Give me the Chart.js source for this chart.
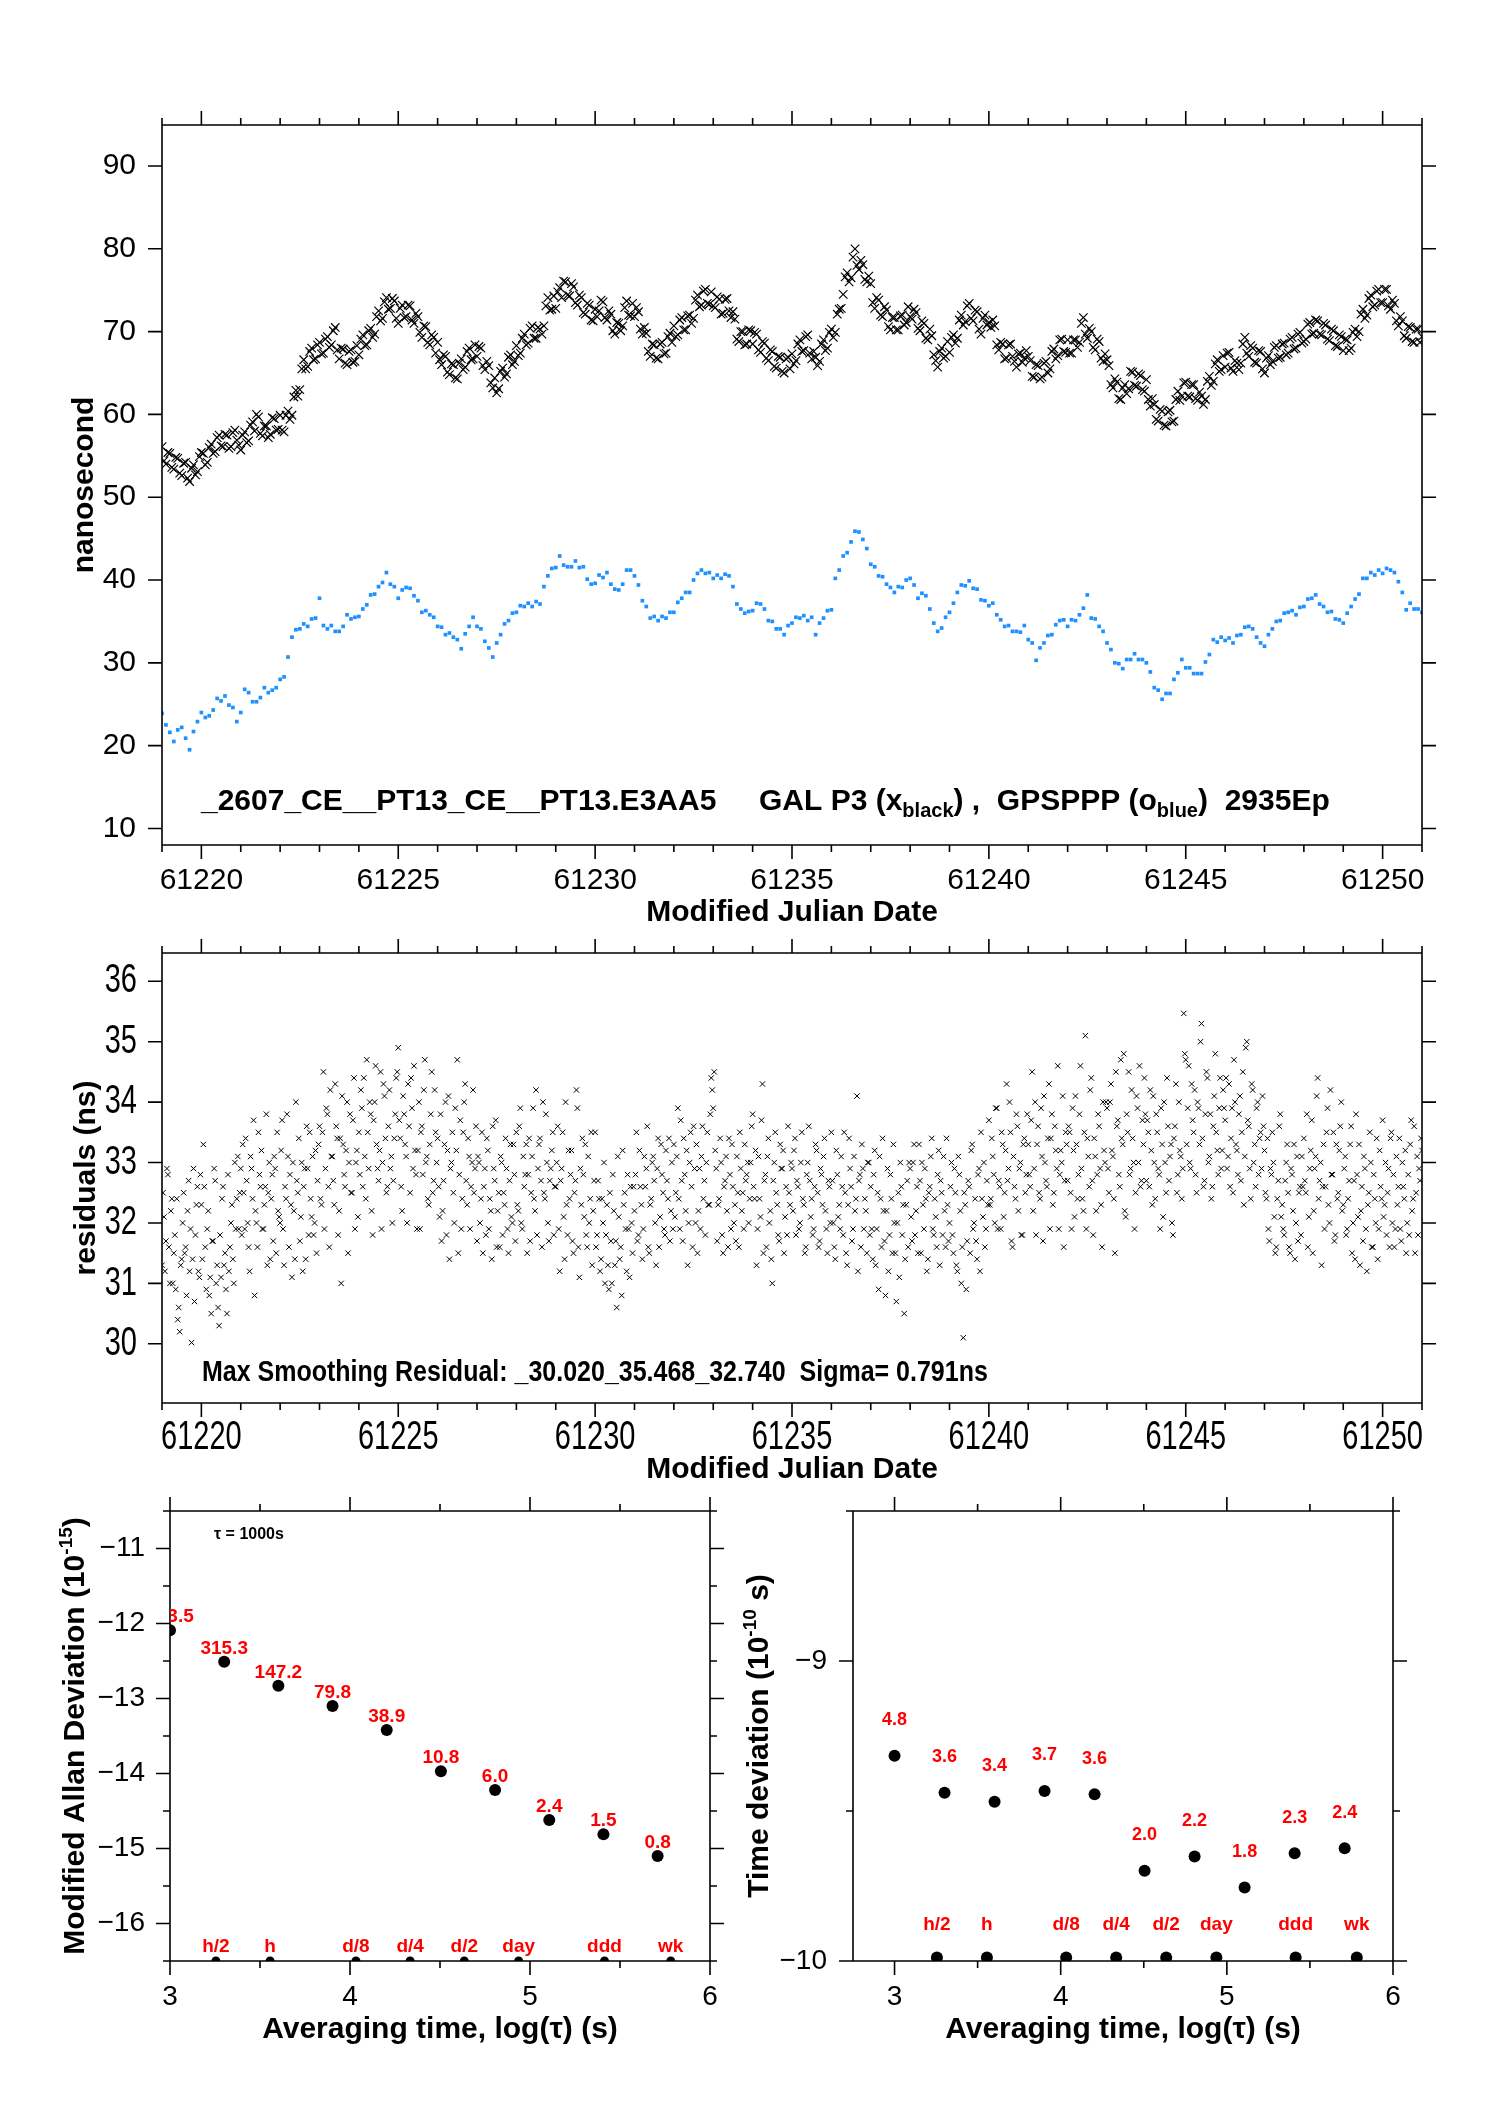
<!DOCTYPE html>
<html>
<head>
<meta charset="utf-8">
<title>GAL P3 / GPSPPP clock comparison</title>
<script src="https://cdn.jsdelivr.net/npm/chart.js@4.4.1/dist/chart.umd.min.js"></script>
<style>
  html, body { margin: 0; padding: 0; background: #fff; }
  body { position: relative; width: 1488px; height: 2105px; overflow: hidden; }
  canvas { position: absolute; }
</style>
</head>
<body>
<canvas id="clockChart" width="1488" height="935" style="left:0;top:0"></canvas>
<canvas id="residChart" width="1488" height="555" style="left:0;top:935px"></canvas>
<canvas id="mdevChart" width="760" height="615" style="left:0;top:1490px"></canvas>
<canvas id="tdevChart" width="758" height="615" style="left:730px;top:1490px"></canvas>
<script>
// ---- data ----
const mjdStart = 61219;
const clockStep = 0.1;     // days between clock samples
const clockMidOffset = 0.05;
const residStep = 0.05;    // days between residual samples
const residMidOffset = 0.025;
const mjdTicks = [61220, 61225, 61230, 61235, 61240, 61245, 61250];

// GAL P3 clock offset (ns), samples at .0 .1 .2 ... , one row per day
const galP3 = [
  56.1, 54.0, 55.3, 53.4, 54.7, 52.6, 54.2, 51.9, 53.9, 53.1,
  55.4, 53.9, 56.0, 55.3, 57.2, 56.2, 57.6, 55.9, 57.8, 56.9,
  55.7, 57.9, 56.8, 59.1, 60.0, 57.7, 58.6, 57.2, 59.6, 58.1,
  59.9, 57.9, 60.4, 59.9, 62.9, 63.0, 66.6, 65.8, 68.0, 66.7,
  68.7, 67.4, 69.4, 68.4, 70.5, 66.7, 67.9, 66.0, 67.8, 66.4,
  67.2, 69.6, 68.4, 70.4, 69.7, 72.5, 71.6, 74.1, 72.8, 73.7,
  71.0, 73.2, 71.8, 73.1, 71.0, 71.8, 69.3, 70.6, 68.4, 69.3,
  68.7, 66.0, 67.0, 64.8, 66.0, 64.3, 66.7, 65.7, 68.0, 66.7,
  67.0, 68.0, 65.4, 65.9, 63.2, 62.6, 65.2, 64.5, 66.9, 66.0,
  68.3, 67.4, 69.7, 68.6, 70.7, 69.2, 70.3, 70.7, 74.1, 72.7,
  72.8, 75.3, 76.1, 74.4, 75.8, 73.5, 74.4, 72.3, 73.4, 71.4,
  72.7, 72.5, 73.6, 71.4, 72.1, 69.7, 71.0, 70.7, 73.7, 71.9,
  71.8, 72.4, 69.7, 69.8, 67.0, 68.4, 66.7, 68.7, 67.4, 69.8,
  70.7, 69.6, 71.7, 70.2, 72.0, 71.6, 74.4, 73.2, 75.1, 73.3,
  73.1, 74.2, 72.1, 73.9, 72.5, 72.4, 69.1, 70.0, 68.4, 70.2,
  68.5, 69.7, 67.5, 68.6, 66.5, 67.6, 65.6, 66.9, 65.0, 66.9,
  67.3, 66.5, 69.0, 67.7, 69.6, 66.7, 66.9, 66.4, 69.0, 68.0,
  70.3, 69.9, 72.7, 74.5, 77.1, 76.5, 80.0, 77.5, 78.1, 76.0,
  75.8, 72.8, 73.8, 71.8, 72.6, 70.2, 71.7, 70.2, 72.0, 71.1,
  71.8, 72.7, 70.4, 71.3, 69.2, 70.3, 67.2, 65.7, 68.0, 67.0,
  67.5, 69.6, 69.2, 72.0, 71.2, 73.4, 71.3, 72.4, 69.7, 72.0,
  71.1, 71.4, 68.4, 68.7, 66.7, 68.4, 67.0, 65.7, 67.4, 66.8,
  67.0, 64.6, 66.0, 64.3, 66.2, 65.0, 67.6, 66.7, 69.0, 67.6,
  69.0, 67.4, 69.0, 68.7, 71.7, 69.2, 70.0, 67.8, 68.8, 66.4,
  66.6, 63.6, 64.3, 61.9, 63.2, 62.5, 65.2, 63.5, 64.9, 63.0,
  64.2, 61.0, 61.2, 59.2, 60.4, 58.6, 60.5, 59.2, 62.8, 62.2,
  63.9, 62.1, 63.6, 61.7, 62.2, 61.8, 64.6, 64.0, 66.6, 65.4,
  65.7, 67.5, 65.2, 66.2, 66.2, 69.3, 67.0, 68.0, 66.2, 67.6,
  65.0, 67.1, 66.4, 68.3, 66.9, 68.6, 67.4, 69.3, 68.0, 69.9,
  68.8, 70.9, 69.7, 71.4, 69.7, 71.0, 69.1, 70.3, 68.3, 69.6,
  67.7, 69.0, 68.0, 70.3, 70.0, 72.7, 72.0, 74.4, 73.2, 75.1,
  73.5, 75.1, 72.7, 73.4, 70.7, 71.3, 69.2, 70.5, 68.7, 70.3,
  69.4
];
// GAL P3 samples at .05 .15 .25 ...
const galP3Mid = [
  54.4, 55.4, 53.6, 54.8, 52.9, 54.1, 52.3, 53.5, 52.7, 54.9,
  55.3, 54.2, 56.4, 55.5, 57.5, 56.1, 57.5, 56.1, 58.1, 56.3,
  57.5, 56.6, 58.7, 58.0, 59.7, 57.4, 58.6, 57.6, 59.5, 58.2,
  58.1, 59.9, 59.4, 62.1, 62.2, 65.5, 65.5, 67.6, 66.6, 68.4,
  67.3, 69.1, 68.1, 70.1, 67.8, 68.0, 66.2, 67.6, 66.3, 68.3,
  69.1, 68.3, 70.1, 69.3, 71.8, 71.3, 73.6, 72.7, 74.0, 71.6,
  72.8, 71.7, 73.2, 71.4, 72.2, 69.9, 70.7, 68.7, 69.6, 67.4,
  66.6, 67.2, 65.1, 66.1, 64.4, 66.2, 65.4, 67.6, 66.6, 68.4,
  68.2, 65.9, 66.4, 63.8, 64.4, 63.1, 65.6, 64.9, 67.2, 66.4,
  67.1, 69.2, 68.4, 70.4, 69.2, 70.5, 69.7, 73.1, 72.6, 74.3,
  74.8, 74.1, 76.0, 74.3, 75.4, 73.2, 74.1, 72.1, 73.2, 71.3,
  71.8, 73.8, 71.7, 72.5, 70.1, 71.1, 70.1, 72.9, 72.0, 73.4,
  72.9, 70.3, 70.5, 67.6, 68.5, 66.8, 68.5, 67.3, 69.4, 68.7,
  69.4, 71.4, 70.2, 71.9, 71.0, 73.8, 73.0, 74.9, 73.4, 74.8,
  72.9, 73.9, 72.2, 74.0, 71.7, 71.5, 68.8, 70.0, 68.5, 70.1,
  69.9, 67.8, 68.8, 66.8, 67.8, 65.8, 67.0, 65.2, 66.7, 65.5,
  66.1, 68.5, 67.6, 69.4, 67.4, 67.6, 65.9, 68.5, 67.7, 69.9,
  69.3, 72.1, 72.8, 76.6, 76.0, 79.0, 78.0, 78.6, 76.3, 76.7,
  73.5, 74.1, 72.0, 73.0, 70.6, 71.7, 70.2, 71.9, 70.8, 73.0,
  71.5, 72.3, 70.1, 71.0, 69.0, 69.5, 66.5, 67.6, 66.8, 68.8,
  69.3, 68.6, 71.4, 70.8, 73.1, 71.6, 72.6, 70.3, 71.6, 70.8,
  70.5, 70.7, 67.8, 68.5, 66.8, 68.5, 66.4, 67.3, 66.3, 67.7,
  66.5, 64.5, 65.9, 64.5, 66.4, 65.5, 67.9, 67.1, 69.1, 67.5,
  67.4, 69.0, 68.1, 71.0, 69.7, 70.4, 68.1, 69.1, 66.8, 67.3,
  65.9, 63.2, 63.9, 61.8, 63.6, 63.1, 65.1, 63.4, 64.7, 62.8,
  61.8, 61.9, 59.4, 60.6, 58.7, 60.3, 59.1, 61.8, 61.7, 63.8,
  62.2, 63.6, 61.9, 62.7, 61.2, 64.0, 63.5, 66.1, 65.2, 67.1,
  67.4, 65.6, 66.5, 65.4, 68.5, 67.4, 68.3, 66.3, 67.7, 65.5,
  66.8, 66.0, 68.1, 66.8, 68.5, 67.2, 69.1, 67.9, 69.7, 68.6,
  69.1, 71.1, 69.8, 71.3, 69.6, 70.8, 68.9, 70.1, 68.2, 69.4,
  69.1, 67.7, 69.9, 69.4, 72.1, 71.6, 74.0, 73.0, 74.9, 73.5,
  75.1, 73.1, 73.8, 71.3, 71.8, 69.5, 70.6, 68.8, 70.3, 68.7
];

// GPSPPP clock offset (ns), one row per day
const gpsPpp = [
  23.9, 22.5, 21.6, 20.5, 21.9, 22.2, 20.9, 19.5, 21.7, 22.9,
  24.0, 23.4, 23.6, 24.3, 25.7, 25.4, 26.0, 24.9, 24.6, 22.9,
  24.0, 26.8, 26.4, 25.3, 25.3, 25.8, 27.0, 26.4, 26.7, 27.0,
  28.0, 28.3, 30.7, 33.1, 34.0, 34.1, 34.7, 34.4, 35.3, 35.4,
  37.8, 34.5, 34.1, 34.5, 33.8, 33.8, 34.4, 35.8, 35.3, 35.5,
  35.6, 36.5, 37.0, 38.2, 38.3, 39.2, 39.7, 40.9, 39.5, 39.2,
  37.8, 38.8, 39.1, 39.0, 38.1, 37.5, 36.1, 36.3, 35.8, 35.5,
  34.4, 34.3, 33.4, 33.6, 33.1, 32.8, 31.7, 33.5, 34.4, 35.5,
  34.4, 34.1, 32.6, 31.8, 30.7, 32.4, 33.4, 34.7, 35.1, 36.0,
  36.1, 36.9, 36.8, 37.2, 36.8, 37.4, 37.1, 39.2, 40.5, 41.4,
  41.5, 42.9, 41.8, 41.6, 41.6, 42.3, 41.5, 41.6, 40.1, 39.5,
  39.6, 40.6, 40.3, 40.9, 39.5, 38.9, 38.8, 39.5, 41.2, 41.2,
  40.5, 39.4, 37.5, 36.8, 35.4, 35.6, 35.1, 35.6, 35.4, 36.1,
  36.1, 37.3, 37.8, 38.5, 38.5, 40.0, 40.8, 41.2, 40.8, 40.9,
  40.2, 40.6, 40.2, 40.7, 40.5, 39.2, 37.1, 36.5, 36.0, 36.2,
  36.3, 37.2, 37.1, 36.5, 35.1, 35.0, 34.1, 34.1, 33.4, 34.5,
  34.8, 35.5, 35.4, 35.7, 35.1, 35.5, 33.4, 34.8, 35.4, 36.3,
  36.4, 40.2, 41.2, 42.9, 43.3, 44.6, 45.9, 45.8, 44.9, 43.8,
  41.9, 41.6, 40.5, 40.4, 39.5, 39.1, 38.5, 39.2, 39.1, 40.0,
  40.2, 39.4, 37.8, 38.4, 38.1, 36.5, 34.8, 33.8, 34.2, 35.5,
  36.1, 37.2, 38.5, 39.4, 39.3, 39.9, 39.0, 38.9, 37.6, 37.5,
  36.9, 37.2, 35.8, 35.2, 34.4, 34.5, 33.8, 33.8, 33.7, 34.5,
  32.8, 32.4, 30.3, 31.8, 32.4, 33.3, 33.4, 34.6, 35.1, 35.2,
  34.4, 35.2, 35.1, 35.8, 36.6, 38.2, 35.4, 35.3, 34.4, 33.8,
  32.4, 31.6, 30.0, 29.9, 29.3, 30.4, 30.4, 31.1, 30.4, 30.4,
  30.0, 28.9, 27.0, 26.7, 25.6, 26.3, 26.3, 28.0, 28.8, 30.4,
  29.4, 29.4, 28.7, 28.7, 28.7, 30.1, 31.0, 32.8, 32.5, 33.1,
  32.7, 33.0, 32.4, 33.3, 33.4, 34.3, 34.4, 34.1, 33.1, 32.4,
  32.0, 33.4, 34.1, 35.0, 35.1, 36.0, 36.1, 36.3, 35.8, 36.7,
  36.8, 37.7, 37.8, 38.2, 37.1, 36.8, 36.1, 36.2, 35.3, 35.2,
  34.8, 36.0, 36.8, 37.7, 38.3, 40.2, 40.2, 40.9, 40.6, 41.2,
  40.8, 41.4, 41.2, 40.9, 39.8, 38.5, 36.4, 37.2, 36.5, 36.5,
  36.1
];

// smoothing residuals (ns), samples at .000 .050 .100 ..., one row per day
const residuals = [
  31.3, 32.1, 31.7, 32.8, 31.0, 32.4, 31.5, 30.9, 30.4, 30.2, 31.4, 32.5, 31.6, 32.2, 31.2, 30.02, 32.9, 31.8, 32.6, 31.1,
  32.3, 33.3, 31.6, 31.9, 30.8, 30.5, 31.7, 32.7, 31.3, 30.3, 31.1, 32.6, 31.5, 30.5, 31.2, 32.0, 31.4, 33.0, 32.4, 31.9,
  32.9, 33.3, 31.9, 32.7, 31.6, 33.1, 32.4, 30.8, 32.0, 33.5, 32.6, 31.9, 32.3, 33.8, 32.5, 31.4, 32.8, 33.1, 31.5, 32.2,
  32.0, 33.7, 31.3, 32.4, 33.1, 32.8, 31.1, 32.2, 34.0, 32.5, 31.7, 33.0, 32.6, 31.4, 32.9, 33.5, 32.1, 31.8, 33.2, 32.7,
  33.6, 32.3, 34.5, 32.9, 33.8, 31.6, 33.1, 32.7, 34.3, 33.4, 32.2, 31.0, 33.3, 32.6, 34.0, 33.0, 32.5, 33.7, 31.9, 33.2,
  33.5, 34.2, 32.6, 33.1, 34.7, 32.9, 33.8, 31.8, 34.0, 33.3, 32.7, 34.5, 33.0, 34.1, 32.5, 33.6, 32.9, 32.0, 33.4, 34.4,
  34.9, 33.4, 32.2, 33.8, 33.1, 34.3, 32.5, 33.9, 34.6, 32.8, 33.2, 31.9, 33.6, 34.2, 33.0, 32.4, 33.3, 34.5, 32.7, 33.5,
  33.4, 32.1, 31.7, 32.7, 34.0, 33.2, 31.4, 33.0, 32.5, 33.9, 34.7, 32.8, 31.9, 33.5, 34.3, 32.3, 33.1, 32.6, 34.2, 32.9,
  31.7, 33.0, 32.4, 31.5, 32.9, 33.4, 31.9, 32.2, 33.6, 32.7, 31.6, 32.5, 33.1, 31.8, 32.3, 32.9, 31.5, 33.3, 32.0, 32.8,
  33.5, 32.2, 33.9, 31.9, 32.6, 33.3, 32.8, 31.7, 33.1, 32.4, 34.2, 32.9, 33.4, 31.6, 32.5, 33.8, 32.0, 32.7, 33.2, 31.8,
  32.6, 33.6, 31.2, 32.9, 32.1, 34.0, 31.8, 32.4, 33.2, 31.5, 32.7, 33.9, 31.1, 32.3, 32.8, 33.3, 31.6, 32.0, 33.5, 32.2,
  33.5, 31.8, 32.4, 31.4, 32.0, 31.0, 32.3, 30.9, 31.7, 32.8, 31.3, 30.6, 32.1, 31.6, 33.2, 32.5, 31.2, 31.9, 32.6, 31.5,
  32.2, 33.5, 31.8, 32.6, 31.4, 33.1, 32.9, 31.6, 32.3, 33.0, 32.7, 31.3, 33.4, 32.1, 32.8, 31.9, 33.2, 32.4, 31.7, 33.0,
  33.3, 32.5, 33.9, 31.9, 32.7, 33.4, 32.2, 31.3, 33.0, 32.6, 33.6, 32.0, 31.5, 32.9, 33.1, 32.4, 31.8, 33.5, 32.3, 34.4,
  33.9, 33.2, 31.7, 32.4, 33.0, 31.5, 32.7, 32.2, 33.4, 31.9, 32.6, 32.3, 33.1, 31.6, 32.9, 32.5, 33.3, 32.8, 32.0, 33.0,
  33.8, 32.4, 31.3, 33.1, 32.1, 34.3, 32.7, 31.6, 33.4, 32.2, 31.0, 33.0, 32.5, 31.8, 33.3, 32.9, 31.5, 32.6, 33.6, 32.3,
  32.9, 33.2, 31.8, 32.6, 32.0, 33.5, 32.3, 31.6, 33.0, 32.7, 32.4, 31.9, 33.3, 32.5, 31.7, 32.8, 33.1, 32.2, 31.5, 32.6,
  33.5, 32.0, 31.4, 32.8, 32.3, 33.1, 31.8, 32.5, 31.3, 33.4, 32.6, 31.9, 32.2, 34.1, 32.7, 31.6, 32.9, 32.4, 31.5, 33.0,
  32.6, 31.4, 33.2, 31.9, 30.9, 32.4, 33.4, 31.7, 32.2, 31.2, 32.8, 31.5, 32.0, 30.7, 32.5, 33.0, 31.8, 30.5, 32.3, 31.6,
  32.9, 31.7, 33.3, 32.2, 31.5, 32.7, 33.0, 31.9, 32.4, 31.4, 32.6, 33.4, 31.8, 32.1, 32.8, 31.3, 32.5, 33.1, 31.6, 32.3,
  32.0, 33.0, 31.5, 32.5, 31.2, 32.8, 31.0, 30.1, 32.3, 31.7, 32.6, 33.2, 31.9, 32.4, 31.4, 32.9, 33.5, 32.1, 31.6, 32.7,
  33.7, 32.4, 33.1, 32.0, 33.9, 32.7, 31.9, 33.3, 32.5, 34.3, 32.9, 33.5, 31.6, 32.6, 33.8, 32.2, 33.0, 31.8, 33.4, 32.8,
  33.3, 32.6, 34.5, 32.9, 31.8, 33.6, 32.4, 33.1, 34.1, 32.7, 33.4, 31.9, 33.8, 32.5, 33.2, 34.6, 32.8, 33.0, 31.6, 33.5,
  32.7, 33.5, 31.9, 33.2, 34.1, 32.4, 33.8, 32.9, 32.2, 35.1, 33.4, 32.6, 34.4, 31.8, 33.1, 32.8, 33.6, 32.3, 34.0, 33.0,
  33.9, 32.5, 34.3, 33.1, 31.5, 33.6, 32.8, 34.7, 33.3, 32.2, 33.8, 34.5, 32.9, 33.4, 31.9, 34.1, 33.0, 32.6, 33.7, 34.4,
  32.7, 33.5, 34.2, 32.3, 33.0, 33.8, 32.9, 31.9, 33.3, 34.0, 32.5, 33.6, 33.1, 32.0, 33.4, 34.3, 32.8, 33.2, 32.4, 35.468,
  34.7, 33.9, 33.0, 34.3, 33.5, 32.8, 34.0, 33.3, 35.3, 32.6, 33.8, 34.4, 33.1, 32.4, 33.6, 34.8, 33.2, 33.9, 32.9, 34.2,
  33.7, 32.9, 34.3, 33.4, 32.5, 34.0, 33.2, 33.8, 32.7, 34.5, 33.1, 35.0, 33.6, 32.4, 34.2, 33.3, 33.9, 32.8, 33.5, 34.1,
  33.2, 32.4, 31.9, 32.9, 33.5, 32.1, 31.6, 32.7, 33.8, 32.3, 31.8, 33.0, 32.5, 31.5, 32.8, 33.3, 32.0, 31.7, 32.6, 33.1,
  33.4, 32.5, 31.6, 32.9, 33.7, 32.2, 33.1, 34.4, 32.7, 31.3, 33.3, 32.6, 33.9, 32.0, 32.8, 33.5, 31.8, 32.4, 33.2, 34.0,
  32.3, 33.1, 31.9, 32.7, 33.6, 32.0, 31.4, 32.8, 33.3, 32.2, 31.7, 32.9, 31.2, 32.5, 33.0, 31.6, 32.4, 33.4, 31.9, 32.6,
  33.7, 32.3, 31.8, 32.9, 33.4, 32.0, 31.6, 33.1, 32.6, 31.9, 33.0, 32.4, 31.5, 32.8, 33.3, 32.2, 33.6, 32.5, 31.8, 32.7,
  33.2
];
// residual samples at .025 .075 .125 ...
const residualsMid = [
  32.5, 31.2, 32.9, 31.6, 32.2, 31.0, 31.8, 32.4, 30.6, 31.3, 32.0, 31.5, 30.8, 32.7, 31.9, 31.4, 30.7, 32.3, 31.2, 32.8,
  31.4, 32.6, 30.9, 32.2, 31.1, 31.7, 32.9, 31.0, 30.6, 31.8, 32.4, 31.3, 30.9, 32.8, 31.6, 32.3, 31.0, 31.9, 33.1, 32.5,
  31.8, 32.5, 33.4, 32.0, 31.2, 32.9, 33.7, 32.2, 31.6, 32.8, 33.2, 31.9, 32.6, 31.3, 33.0, 32.4, 31.7, 32.9, 33.5, 32.1,
  33.2, 31.9, 32.6, 33.8, 31.6, 32.3, 33.0, 31.4, 32.7, 33.4, 32.1, 31.2, 32.9, 33.6, 31.8, 32.4, 33.1, 32.0, 31.5, 33.3,
  32.4, 33.5, 31.9, 33.9, 32.6, 34.2, 33.1, 32.3, 33.6, 31.8, 33.4, 34.1, 32.8, 33.2, 31.5, 33.8, 32.5, 34.4, 33.0, 32.1,
  32.8, 33.9, 34.4, 32.4, 33.5, 34.0, 32.2, 33.7, 34.6, 32.9, 33.2, 31.9, 34.3, 33.4, 32.6, 34.2, 33.1, 32.7, 33.8, 34.5,
  33.7, 32.6, 34.1, 33.3, 32.0, 33.6, 34.4, 32.9, 33.2, 31.9, 34.0, 33.5, 32.8, 34.7, 33.1, 32.3, 33.8, 32.5, 34.2, 33.0,
  32.6, 33.8, 32.2, 33.3, 31.8, 34.1, 32.9, 33.5, 32.0, 33.2, 31.5, 33.7, 32.4, 34.0, 32.7, 33.4, 31.9, 33.0, 32.5, 33.6,
  33.1, 32.0, 33.5, 32.6, 31.8, 33.2, 32.4, 31.4, 32.9, 33.7, 32.2, 31.6, 33.0, 32.5, 33.4, 31.9, 32.7, 32.1, 33.3, 31.7,
  32.3, 33.6, 32.0, 33.1, 32.8, 31.5, 33.4, 32.5, 33.9, 32.2, 31.8, 33.3, 32.7, 34.0, 32.4, 33.0, 31.7, 32.9, 33.5, 32.6,
  33.0, 31.9, 32.7, 33.5, 31.4, 32.3, 33.2, 32.8, 31.7, 32.5, 34.2, 31.6, 32.9, 33.4, 32.1, 31.8, 33.1, 32.4, 31.3, 32.7,
  31.6, 32.7, 31.2, 32.4, 33.0, 31.8, 31.3, 32.5, 31.0, 32.2, 31.7, 33.1, 31.4, 30.8, 32.3, 31.9, 32.8, 31.1, 32.0, 32.6,
  32.8, 31.7, 33.2, 32.3, 31.9, 32.6, 33.6, 31.5, 32.4, 33.1, 32.0, 32.9, 31.6, 33.3, 32.5, 31.8, 32.7, 33.4, 32.2, 31.9,
  32.1, 33.1, 32.4, 33.7, 31.7, 32.8, 33.2, 32.0, 33.5, 31.6, 32.9, 33.3, 32.2, 31.9, 33.6, 32.7, 33.0, 32.3, 33.8, 34.2,
  34.5, 32.9, 32.3, 33.4, 31.8, 32.6, 33.1, 31.6, 32.8, 33.3, 32.0, 31.7, 32.5, 33.5, 32.2, 31.9, 32.7, 33.0, 32.4, 33.6,
  32.6, 33.2, 31.9, 32.4, 33.7, 31.5, 32.8, 33.1, 32.0, 31.4, 32.7, 33.5, 32.3, 31.7, 32.9, 33.2, 32.1, 31.8, 32.5, 33.0,
  32.2, 33.4, 32.7, 31.9, 33.0, 32.4, 31.5, 32.8, 33.6, 32.1, 31.8, 32.6, 33.2, 31.6, 32.9, 32.3, 33.4, 31.9, 32.7, 32.0,
  32.7, 31.6, 33.2, 32.1, 31.9, 32.6, 33.5, 31.5, 32.3, 32.9, 31.7, 33.1, 32.4, 31.2, 32.8, 33.3, 31.9, 32.2, 33.0, 31.8,
  31.9, 32.8, 31.3, 32.5, 33.1, 31.6, 32.2, 30.8, 32.9, 31.8, 32.4, 33.3, 31.5, 32.0, 31.1, 32.6, 32.3, 31.4, 32.7, 33.0,
  32.1, 33.0, 31.8, 32.6, 33.3, 31.5, 32.3, 32.9, 31.2, 32.5, 33.1, 31.9, 32.4, 31.6, 33.2, 32.7, 31.8, 32.2, 33.4, 31.7,
  32.6, 31.8, 32.9, 31.3, 33.1, 32.2, 31.6, 32.5, 30.9, 32.7, 31.5, 33.3, 32.0, 31.7, 32.8, 31.2, 32.4, 33.0, 31.9, 32.3,
  32.3, 33.4, 32.8, 33.9, 31.9, 32.6, 33.5, 32.1, 33.2, 32.7, 34.0, 31.7, 33.1, 32.4, 33.6, 32.9, 31.8, 33.3, 32.5, 33.8,
  32.8, 33.7, 32.2, 34.0, 33.3, 32.5, 33.9, 31.7, 33.0, 32.6, 34.3, 33.4, 32.3, 33.6, 32.9, 31.9, 33.2, 34.1, 32.7, 33.3,
  33.6, 32.5, 33.9, 32.1, 33.3, 32.8, 34.6, 32.4, 33.5, 31.9, 33.1, 34.2, 32.7, 33.4, 32.2, 33.8, 32.9, 31.6, 33.2, 34.0,
  32.9, 34.0, 33.2, 32.4, 34.5, 33.7, 32.6, 33.4, 34.8, 32.1, 33.5, 32.8, 34.2, 33.0, 32.5, 33.9, 34.6, 32.7, 33.3, 33.8,
  33.7, 32.6, 33.2, 34.1, 32.4, 33.5, 32.8, 33.9, 32.1, 33.0, 34.4, 32.7, 33.3, 31.8, 33.6, 32.5, 34.0, 33.1, 32.9, 34.8,
  33.3, 34.6, 32.9, 33.7, 34.2, 32.5, 33.9, 35.0, 33.4, 32.7, 34.5, 33.0, 33.8, 32.6, 34.1, 33.5, 32.8, 34.4, 33.2, 33.9,
  34.4, 33.1, 32.6, 33.9, 34.7, 33.3, 32.8, 34.1, 33.5, 32.3, 34.9, 33.7, 32.9, 34.3, 33.0, 32.6, 34.0, 33.4, 32.9, 33.6,
  32.5, 33.4, 31.7, 32.8, 33.0, 31.5, 32.4, 33.6, 32.1, 31.9, 32.7, 33.3, 31.6, 32.9, 32.2, 31.4, 33.1, 32.5, 31.8, 32.6,
  32.7, 33.8, 32.1, 33.2, 31.5, 32.9, 34.1, 32.4, 33.0, 32.6, 31.9, 33.5, 32.3, 34.2, 32.8, 31.7, 33.3, 32.5, 33.6, 32.2,
  32.9, 31.8, 32.4, 33.3, 31.5, 32.7, 33.8, 32.1, 31.3, 32.6, 33.1, 31.9, 32.3, 33.5, 31.6, 32.8, 32.0, 31.4, 33.2, 32.4,
  32.1, 33.0, 32.5, 31.6, 33.5, 32.8, 31.9, 32.3, 33.4, 31.7, 32.6, 33.2, 32.0, 31.8, 33.7, 32.4, 31.5, 33.1, 32.9, 33.4
];

// stability: log10(tau) and log10 of the deviations
const logTau = [3.0, 3.301, 3.602, 3.903, 4.204, 4.505, 4.806, 5.107, 5.408, 5.709];
const mdevLog = [-12.09, -12.51, -12.83, -13.10, -13.42, -13.97, -14.22, -14.62, -14.81, -15.10];
const mdevText = ['633.5', '315.3', '147.2', '79.8', '38.9', '10.8', '6.0', '2.4', '1.5', '0.8'];
const tdevLog = [-9.316, -9.439, -9.469, -9.433, -9.444, -9.699, -9.652, -9.755, -9.641, -9.624];
const tdevText = ['4.8', '3.6', '3.4', '3.7', '3.6', '2.0', '2.2', '1.8', '2.3', '2.4'];
const markTau = [3.255, 3.556, 4.033, 4.334, 4.635, 4.937, 5.414, 5.782];
const markText = ['h/2', 'h', 'd/8', 'd/4', 'd/2', 'day', 'ddd', 'wk'];
const mdevMarkLevel = -16.5;
const tdevMarkLevel = -9.988;

// ---- drawing ----
const FONT = "'Liberation Sans', Arial, Helvetica, sans-serif";
Chart.defaults.font.family = FONT;
Chart.defaults.color = '#000';
Chart.defaults.animation = false;

const toPoints = (vals, step, offset) => vals.map((v, i) => ({ x: mjdStart + (offset || 0) + i * step, y: v }));
const range = (a, b, s) => { const out = []; for (let v = a; v <= b + 1e-9; v += s) out.push(+v.toFixed(3)); return out; };
const minus = v => (v < 0 ? '\u2212' + Math.abs(v) : String(v));

// tick marks themselves are drawn by frameTicks; the invisible grid tick only offsets the labels
function axis(o) {
  return {
    type: 'linear', min: o.min, max: o.max,
    position: o.horizontal ? 'bottom' : 'left',
    afterBuildTicks: s => { s.ticks = o.ticks.map(v => ({ value: v })); },
    afterFit: s => { if (o.horizontal) s.height = o.fit; else s.width = o.fit; },
    grid: { display: true, drawOnChartArea: false, drawTicks: true, tickLength: o.tl, color: 'rgba(0,0,0,0)' },
    border: { display: false },
    ticks: { display: !o.hide, padding: 0, autoSkip: false, maxRotation: 0, color: '#000',
             font: { size: o.size }, callback: o.fmt || (v => String(v)) },
    title: o.title
      ? { display: true, text: o.title, padding: 0, color: '#000', font: { size: 30, weight: 'bold' } }
      : { display: false }
  };
}

// frame + outward ticks on all four sides
function frameTicks(t) {
  return {
    id: 'frameTicks',
    afterDatasetsDraw(chart) {
      const { ctx, chartArea: a, scales: { x, y } } = chart;
      ctx.save();
      ctx.strokeStyle = '#000';
      ctx.lineWidth = 1.6;
      ctx.beginPath();
      ctx.rect(a.left, a.top, a.right - a.left, a.bottom - a.top);
      const seg = (x1, y1, x2, y2) => { ctx.moveTo(x1, y1); ctx.lineTo(x2, y2); };
      const doX = (vals, len) => vals.forEach(v => {
        const px = x.getPixelForValue(v);
        seg(px, a.bottom, px, a.bottom + len);
        seg(px, a.top, px, a.top - len);
      });
      const doY = (vals, len) => vals.forEach(v => {
        const py = y.getPixelForValue(v);
        seg(a.left, py, a.left - len, py);
        seg(a.right, py, a.right + len, py);
      });
      doX(t.xMajor, 14); doX(t.xMinor || [], 7);
      doY(t.yMajor, 14); doY(t.yMinor || [], 7);
      ctx.stroke();
      ctx.restore();
    }
  };
}

// tick labels drawn vertically stretched (the residual panel uses tall digits)
function tallTicks(size, k, xGap, yGap) {
  return {
    id: 'tallTicks',
    afterDraw(chart) {
      const { ctx, chartArea: a, scales: { x, y } } = chart;
      const put = (txt, px, py, align) => {
        ctx.save();
        ctx.translate(px, py);
        ctx.scale(1, k);
        ctx.font = size + 'px ' + FONT;
        ctx.fillStyle = '#000';
        ctx.textAlign = align;
        ctx.textBaseline = 'middle';
        ctx.fillText(txt, 0, 0);
        ctx.restore();
      };
      x.ticks.forEach(t => put(String(t.value), x.getPixelForValue(t.value), a.bottom + xGap, 'center'));
      y.ticks.forEach(t => put(String(t.value), a.left - yGap, y.getPixelForValue(t.value), 'right'));
    }
  };
}

function drawRich(ctx, it) {
  ctx.save();
  ctx.translate(it.x, it.y);
  if (it.rot) ctx.rotate(it.rot);
  if (it.k) ctx.scale(1, it.k);
  ctx.fillStyle = it.color || '#000';
  ctx.textBaseline = 'alphabetic';
  ctx.textAlign = 'left';
  let total = 0;
  const widths = it.parts.map(p => {
    ctx.font = 'bold ' + p[1] + 'px ' + FONT;
    const w = ctx.measureText(p[0]).width;
    total += w;
    return w;
  });
  let cx = it.align === 'center' ? -total / 2 : 0;
  it.parts.forEach((p, i) => {
    ctx.font = 'bold ' + p[1] + 'px ' + FONT;
    ctx.fillText(p[0], cx, p[2]);
    cx += widths[i];
  });
  ctx.restore();
}

function notes(items) {
  return { id: 'notes', afterDraw(chart) { items.forEach(it => drawRich(chart.ctx, it)); } };
}

// red labels above points, clipped to the plot box
function pointText(sets) {
  return {
    id: 'pointText',
    afterDatasetsDraw(chart) {
      const { ctx, chartArea: a } = chart;
      ctx.save();
      ctx.beginPath();
      ctx.rect(a.left, a.top, a.right - a.left, a.bottom - a.top);
      ctx.clip();
      ctx.fillStyle = '#ff0000';
      ctx.textAlign = 'center';
      ctx.textBaseline = 'middle';
      sets.forEach(s => {
        ctx.font = 'bold ' + s.size + 'px ' + FONT;
        chart.getDatasetMeta(s.index).data.forEach((pt, j) => ctx.fillText(s.texts[j], pt.x, pt.y + s.dy));
      });
      ctx.restore();
    }
  };
}

const common = {
  responsive: false,
  animation: false,
  events: [],
  plugins: { legend: { display: false }, tooltip: { enabled: false } }
};

const galStyle = { pointStyle: 'crossRot', pointRadius: 6, pointBorderWidth: 1.15, pointBorderColor: '#000', pointBackgroundColor: '#000' };
const residStyle = { pointStyle: 'crossRot', pointRadius: 3.8, pointBorderWidth: 1, pointBorderColor: '#000', pointBackgroundColor: '#000' };

// top: clock offsets
new Chart(document.getElementById('clockChart'), {
  type: 'scatter',
  data: {
    datasets: [
      { data: toPoints(galP3, clockStep), ...galStyle },
      { data: toPoints(galP3Mid, clockStep, clockMidOffset), ...galStyle },
      { data: toPoints(gpsPpp, clockStep), pointStyle: 'rect', pointRadius: 2.6,
        pointBorderWidth: 0, pointBorderColor: '#1e90ff', pointBackgroundColor: '#1e90ff' }
    ]
  },
  options: {
    ...common,
    layout: { padding: { left: 67, top: 125, right: 66, bottom: 4 } },
    scales: {
      x: axis({ horizontal: true, min: 61219, max: 61251, ticks: mjdTicks, size: 30, tl: 18, fit: 86, title: 'Modified Julian Date' }),
      y: axis({ min: 8, max: 94.95, ticks: [10, 20, 30, 40, 50, 60, 70, 80, 90], size: 30, tl: 26, fit: 95, title: 'nanosecond' })
    }
  },
  plugins: [
    frameTicks({ xMajor: mjdTicks, xMinor: range(61219, 61251, 1), yMajor: [10, 20, 30, 40, 50, 60, 70, 80, 90] }),
    notes([
      { x: 201, y: 810, parts: [['_2607_CE__PT13_CE__PT13.E3AA5', 30, 0]] },
      { x: 759, y: 810, parts: [['GAL P3 (x', 30, 0], ['black', 20, 7], [') ,  GPSPPP (o', 30, 0], ['blue', 20, 7], [')  2935Ep', 30, 0]] }
    ])
  ]
});

// middle: residuals
new Chart(document.getElementById('residChart'), {
  type: 'scatter',
  data: {
    datasets: [
      { data: toPoints(residuals, residStep), ...residStyle },
      { data: toPoints(residualsMid, residStep, residMidOffset), ...residStyle }
    ]
  },
  options: {
    ...common,
    layout: { padding: { left: 69, top: 18, right: 66, bottom: 2 } },
    scales: {
      x: axis({ horizontal: true, min: 61219, max: 61251, ticks: mjdTicks, size: 29, tl: 18, fit: 85, hide: true, title: 'Modified Julian Date' }),
      y: axis({ min: 29.02, max: 36.468, ticks: [30, 31, 32, 33, 34, 35, 36], size: 29, tl: 25, fit: 93, hide: true, title: 'residuals (ns)' })
    }
  },
  plugins: [
    frameTicks({ xMajor: mjdTicks, xMinor: range(61219, 61251, 1), yMajor: [30, 31, 32, 33, 34, 35, 36] }),
    tallTicks(29, 1.4, 35, 25),
    notes([
      { x: 202, y: 446, k: 1.15, parts: [['Max Smoothing Residual: _30.020_35.468_32.740  Sigma= 0.791ns', 25, 0]] }
    ])
  ]
});

// bottom left: modified Allan deviation
new Chart(document.getElementById('mdevChart'), {
  type: 'scatter',
  data: {
    datasets: [
      { data: logTau.map((t, i) => ({ x: t, y: mdevLog[i] })), pointStyle: 'circle', pointRadius: 6,
        pointBorderWidth: 0, pointBackgroundColor: '#000' },
      { data: markTau.map(t => ({ x: t, y: mdevMarkLevel })), pointStyle: 'circle', pointRadius: 4.5,
        pointBorderWidth: 0, pointBackgroundColor: '#000' }
    ]
  },
  options: {
    ...common,
    layout: { padding: { left: 0, top: 21, right: 50, bottom: 57 } },
    scales: {
      x: axis({ horizontal: true, min: 3, max: 6, ticks: [3, 4, 5, 6], size: 28, tl: 19, fit: 87, title: 'Averaging time, log(\u03c4) (s)' }),
      y: axis({ min: -16.5, max: -10.5, ticks: [-16, -15, -14, -13, -12, -11], size: 28, tl: 25, fit: 170, fmt: minus })
    }
  },
  plugins: [
    frameTicks({ xMajor: [3, 4, 5, 6], xMinor: [3.5, 4.5, 5.5], yMajor: [-16, -15, -14, -13, -12, -11], yMinor: [-16.5, -15.5, -14.5, -13.5, -12.5, -11.5, -10.5] }),
    pointText([
      { index: 0, texts: mdevText, dy: -13, size: 19 },
      { index: 1, texts: markText, dy: -14, size: 19 }
    ]),
    notes([
      { x: 214, y: 49, parts: [['\u03c4 = 1000s', 16, 0]] },
      { x: 84, y: 246, rot: -Math.PI / 2, align: 'center',
        parts: [['Modified Allan Deviation (10', 30, 0], ['-15', 19, -12], [')', 30, 0]] }
    ])
  ]
});

// bottom right: time deviation
new Chart(document.getElementById('tdevChart'), {
  type: 'scatter',
  data: {
    datasets: [
      { data: logTau.map((t, i) => ({ x: t, y: tdevLog[i] })), pointStyle: 'circle', pointRadius: 6,
        pointBorderWidth: 0, pointBackgroundColor: '#000' },
      { data: markTau.map(t => ({ x: t, y: tdevMarkLevel })), pointStyle: 'circle', pointRadius: 6,
        pointBorderWidth: 0, pointBackgroundColor: '#000' }
    ]
  },
  options: {
    ...common,
    layout: { padding: { left: 0, top: 21, right: 95, bottom: 57 } },
    scales: {
      x: axis({ horizontal: true, min: 2.75, max: 6, ticks: [3, 4, 5, 6], size: 28, tl: 19, fit: 87, title: 'Averaging time, log(\u03c4) (s)' }),
      y: axis({ min: -10, max: -8.5, ticks: [-10, -9], size: 28, tl: 26, fit: 123, fmt: minus })
    }
  },
  plugins: [
    frameTicks({ xMajor: [3, 4, 5, 6], xMinor: [3.5, 4.5, 5.5], yMajor: [-10, -9], yMinor: [-9.5, -8.5] }),
    pointText([
      { index: 0, texts: tdevText, dy: -35.5, size: 18 },
      { index: 1, texts: markText, dy: -32.5, size: 19 }
    ]),
    notes([
      { x: 38, y: 246, rot: -Math.PI / 2, align: 'center',
        parts: [['Time deviation (10', 30, 0], ['-10', 19, -12], [' s)', 30, 0]] }
    ])
  ]
});
</script>
</body>
</html>
